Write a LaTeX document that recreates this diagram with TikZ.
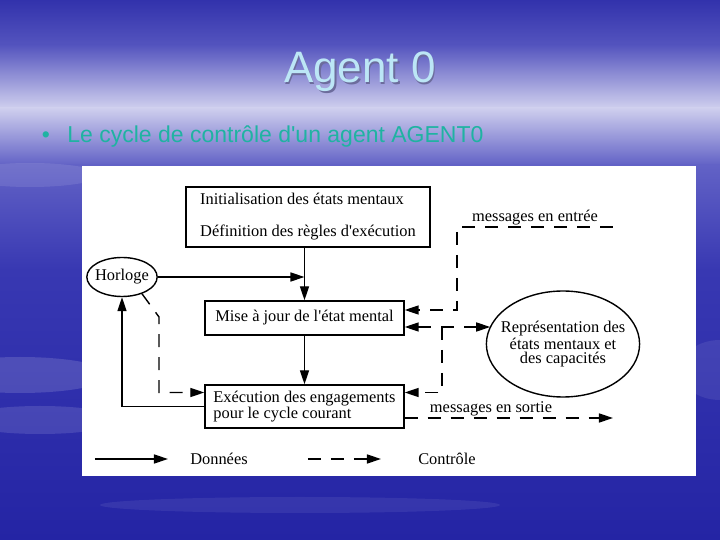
\documentclass[tikz,border=0pt]{standalone}
\usepackage{fontspec}
\setmainfont{Liberation Serif}
\newfontfamily\slidefont{Liberation Sans}
\usetikzlibrary{arrows.meta,shapes.geometric}
\definecolor{SkyTop}{HTML}{3232AC}
\definecolor{SkyMid}{HTML}{5454BE}
\definecolor{SkyHaze}{HTML}{CFCFEE}
\definecolor{SkyLow}{HTML}{6262C6}
\definecolor{Sea}{HTML}{3838B2}
\definecolor{Deep}{HTML}{2424A4}
\definecolor{TitleInk}{HTML}{BCE6F6}
\definecolor{TitleShade}{HTML}{6C6C9C}
\definecolor{Teal}{HTML}{1FB3A2}
\newcommand\diagfont{\fontsize{8.2}{8.2}\selectfont}

\begin{document}
\begin{tikzpicture}[x=0.5pt,y=-0.5pt,
  box/.style={draw,line width=0.7pt,rectangle,inner sep=0pt,font=\diagfont},
  oval/.style={draw,line width=0.7pt,ellipse,inner ysep=0pt,font=\diagfont},
  data/.style={line width=0.7pt,-{Triangle[length=7pt,width=4.5pt]}},
  ctrl/.style={data,dash pattern=on 6.5pt off 5pt},
  lbl/.style={font=\diagfont,inner sep=0pt}]
\path[use as bounding box] (0,0) rectangle (720,540);

% sky background
\shade[top color=SkyTop,bottom color=SkyMid] (0,0) rectangle (720,45);
\shade[top color=SkyMid,bottom color=SkyHaze] (0,45) rectangle (720,108);
\shade[top color=SkyHaze,bottom color=SkyLow] (0,108) rectangle (720,165);
\shade[top color=SkyLow,bottom color=Sea] (0,165) rectangle (720,270);
\shade[top color=Sea,bottom color=Deep] (0,270) rectangle (720,540);
\fill[white,opacity=0.10] (30,175) ellipse (70 and 12);
\fill[white,opacity=0.14] (20,375) ellipse (90 and 18);
\fill[white,opacity=0.12] (40,420) ellipse (80 and 14);
\fill[white,opacity=0.08] (720,370) ellipse (40 and 30);
\fill[white,opacity=0.07] (300,505) ellipse (200 and 8);

% title and bullet
\node[font=\slidefont\fontsize{22}{22}\selectfont,text=TitleShade] at (361.5,73.5) {Agent 0};
\node[font=\slidefont\fontsize{22}{22}\selectfont,text=TitleInk] (title) at (360,72) {Agent 0};
\node[font=\slidefont\fontsize{11.5}{11.5}\selectfont,text=Teal] (dot) at (46,137) {•};
\node[font=\slidefont\fontsize{11.5}{11.5}\selectfont,text=Teal,anchor=west,inner sep=0pt] (sub) at (67,137) {Le cycle de contrôle d'un agent AGENT0};

% diagram panel
\fill[white] (82,166) rectangle (696,476);

\node[box,align=left,minimum width=122pt,minimum height=30pt] (init) at (308,217)
  {Initialisation des états mentaux\\[7.8pt]Définition des règles d\textquotesingle exécution};
\node[box,minimum width=99.5pt,minimum height=17pt] (maj) at (304.5,318) {Mise à jour de l\textquotesingle état mental};
\node[box,align=left,minimum width=99.5pt,minimum height=21.5pt] (exec) at (304.5,406.5)
  {Exécution des engagements\\pour le cycle courant};
\node[oval,inner xsep=-1pt,minimum width=35pt,minimum height=19.5pt] (horloge) at (122,277) {Horloge};
\node[oval,font=\fontsize{8.2}{7.3}\selectfont,align=center,inner xsep=-4pt,minimum width=75pt,minimum height=53pt] (repr) at (563,344)
  {Représentation des\\états mentaux et\\des capacités};

% data flow
\draw[data] (maj.north |- init.south) -- (maj.north);
\draw[data] (horloge) -- (horloge -| maj.north);
\draw[data] (maj) -- (exec);
\draw[data] (exec.west) -| (horloge.south);

% control flow
\coordinate (hk) at (159,317);
\draw[ctrl] (horloge.-40) -- (hk) |- ([yshift=7pt]exec.west);
\coordinate (inS) at (613,227);
\coordinate (inC) at (457,227);
\draw[ctrl] (inS) -- (inC) |- ([yshift=4pt]maj.east);
\node[lbl] (entree) at (535,218) {messages en entrée};
\coordinate (mid) at ([yshift=-4.5pt]maj.east);
\draw[ctrl,{Triangle[length=7pt,width=4.5pt]}-{Triangle[length=7pt,width=4.5pt]}] (mid) -- (mid -| repr.166);
\coordinate (br) at (442,327);
\draw[ctrl] (br) |- ([yshift=7pt]exec.east);
\coordinate (outE) at (613,418);
\draw[ctrl] (outE -| exec.east) -- (outE);
\node[lbl] (sortie) at (491,409) {messages en sortie};

% legend
\coordinate (lgA) at (95,459);
\coordinate (lgB) at (168,459);
\draw[data] (lgA) -- (lgB);
\node[lbl] (donnees) at (219,459) {Données};
\coordinate (lgC) at (308,459);
\coordinate (lgD) at (381,459);
\draw[ctrl] (lgC) -- (lgD);
\node[lbl] (controle) at (447,459) {Contrôle};
\end{tikzpicture}
\end{document}
